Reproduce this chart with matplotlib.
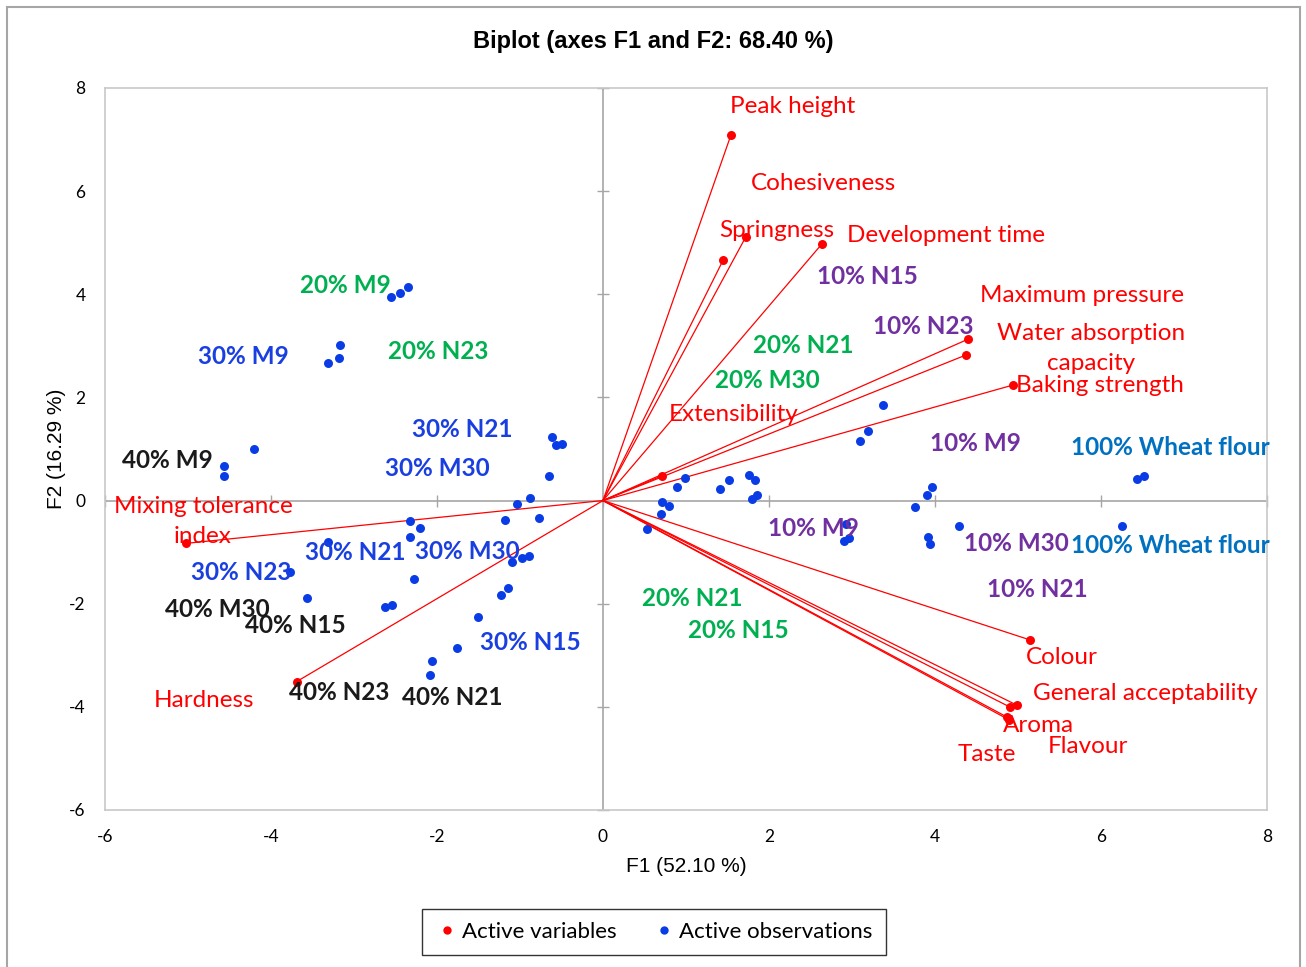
import numpy as np
import matplotlib
matplotlib.use("Agg")
import matplotlib.pyplot as plt
from matplotlib.patches import Rectangle
from matplotlib.lines import Line2D

plt.rcParams["axes.unicode_minus"] = False

# variable loadings (F1, F2)
var_names = ["Peak height", "Cohesiveness", "Springness", "Development time",
             "Maximum pressure", "Water absorption\ncapacity", "Baking strength",
             "Extensibility", "Mixing tolerance\nindex", "Hardness", "Colour",
             "General acceptability", "Aroma", "Taste", "Flavour"]
var_f1 = [1.54, 1.72, 1.45, 2.64, 4.40, 4.37, 4.94, 0.71, -5.02, -3.69, 5.14, 4.99, 4.91, 4.87, 4.89]
var_f2 = [7.08, 5.11, 4.67, 4.98, 3.13, 2.82, 2.24, 0.48, -0.83, -3.51, -2.70, -3.97, -4.01, -4.20, -4.25]

# observation scores (F1, F2)
obs_f1 = [-2.55, -2.45, -2.35, -3.31, -3.18, -3.17, -4.57, -4.57, -4.20,
          -0.61, -0.57, -0.49, -0.65, -0.88, -1.04,
          -2.33, -2.21, -2.33, -3.31, -1.18, -0.77,
          -1.10, -0.97, -0.89, -3.77, -2.28, -3.57,
          -2.63, -2.54, -1.14, -1.23, -1.50, -1.76, -2.06, -2.09,
          3.37, 3.19, 3.10, 6.44, 6.52, 0.99, 0.89, 1.41, 1.52, 1.76, 1.83,
          1.80, 1.86, 3.97, 3.90, 3.76, 0.71, 0.79, 0.70, 0.53,
          4.29, 3.92, 3.94, 2.93, 2.90, 2.96, 6.25]
obs_f2 = [3.94, 4.03, 4.14, 2.67, 2.77, 3.02, 0.67, 0.47, 1.00,
          1.24, 1.07, 1.09, 0.48, 0.05, -0.06,
          -0.39, -0.54, -0.71, -0.81, -0.37, -0.34,
          -1.20, -1.11, -1.07, -1.38, -1.53, -1.89,
          -2.07, -2.03, -1.70, -1.84, -2.25, -2.86, -3.12, -3.38,
          1.86, 1.34, 1.16, 0.42, 0.47, 0.43, 0.26, 0.23, 0.39, 0.50, 0.39,
          0.03, 0.11, 0.26, 0.10, -0.13, -0.03, -0.10, -0.26, -0.55,
          -0.49, -0.70, -0.84, -0.45, -0.78, -0.72, -0.50]

obs_labels = ["20% M9", "20% N23", "20% N21", "20% M30", "20% N21", "20% N15",
              "30% M9", "30% N21", "30% M30", "30% N21", "30% M30", "30% N23", "30% N15",
              "40% M9", "40% M30", "40% N15", "40% N23", "40% N21",
              "10% N15", "10% N23", "10% M9", "10% M9", "10% M30", "10% N21",
              "100% Wheat flour", "100% Wheat flour"]

# label placement
var_label_xy = [(2.28, 7.64), (2.66, 6.15), (2.10, 5.24), (4.13, 5.14), (5.77, 3.98),
                (5.88, 2.95), (5.99, 2.23), (1.58, 1.67), (-4.82, -0.41), (-4.81, -3.88),
                (5.53, -3.04), (6.53, -3.74), (5.25, -4.36), (4.63, -4.93), (5.84, -4.77)]
obs_label_xy = [(-3.10, 4.17), (-1.98, 2.89), (2.41, 3.01), (1.98, 2.33), (1.08, -1.90), (1.63, -2.52),
                (-4.33, 2.79), (-1.70, 1.38), (-2.00, 0.62), (-2.99, -1.01), (-1.63, -0.99),
                (-4.36, -1.40), (-0.88, -2.75),
                (-5.25, 0.78), (-4.65, -2.11), (-3.71, -2.42), (-3.18, -3.72), (-1.82, -3.82),
                (3.18, 4.34), (3.86, 3.37), (4.49, 1.11), (2.53, -0.54), (4.98, -0.83), (5.23, -1.73),
                (6.84, 1.03), (6.84, -0.87)]
group_colors = {"10%": "#7030A0", "20%": "#00B050", "30%": "#1A3FE0",
                "40%": "#1A1A1A", "100%": "#0070C0"}

red = "#FF0000"
blue = "#0A3CE6"
lab_font = ["Lato", "DejaVu Sans"]

fig = plt.figure(figsize=(13.06, 9.67), dpi=100)
ax = fig.add_axes([0.0804, 0.1624, 0.8897, 0.7466])

ax.axhline(0, color="#A6A6A6", lw=1.2, zorder=1)
ax.axvline(0, color="#A6A6A6", lw=1.2, zorder=1)

xt = np.arange(-6, 9, 2)
yt = np.arange(-6, 9, 2)
ax.plot(np.zeros_like(yt), yt, ls="none", marker="_", ms=8, mew=1, color="#A6A6A6", zorder=1, clip_on=False)
ax.plot(xt, np.zeros_like(xt), ls="none", marker="|", ms=8, mew=1, color="#A6A6A6", zorder=1, clip_on=False)

for x, y in zip(var_f1, var_f2):
    ax.plot([0, x], [0, y], color=red, lw=0.9, zorder=2)
ax.scatter(var_f1, var_f2, s=42, color=red, zorder=3, linewidths=0)
ax.scatter(obs_f1, obs_f2, s=42, color=blue, zorder=3, linewidths=0)

for name, (tx, ty) in zip(var_names, var_label_xy):
    ax.text(tx, ty, name, color=red, fontsize=17.5, family=lab_font,
            ha="center", va="center", linespacing=1.55, zorder=4)
for name, (tx, ty) in zip(obs_labels, obs_label_xy):
    c = group_colors[name.split()[0]]
    ax.text(tx, ty, name, color=c, fontsize=17.5, family=lab_font, fontweight="bold",
            ha="center", va="center", zorder=4)

ax.set_xlim(-6, 8)
ax.set_ylim(-6, 8)
ax.set_xticks(xt)
ax.set_yticks(yt)
ax.tick_params(length=0, labelsize=12.5, pad=14)
for lab in ax.get_xticklabels() + ax.get_yticklabels():
    lab.set_family(lab_font)
for s in ax.spines.values():
    s.set_color("#C8C8C8")
    s.set_linewidth(1.2)

ax.set_xlabel("F1 (52.10 %)", fontsize=15, family="Liberation Sans", labelpad=8)
ax.set_ylabel("F2 (16.29 %)", fontsize=15, family="Liberation Sans", labelpad=2)
fig.text(0.5, 0.9566, "Biplot (axes F1 and F2: 68.40 %)", ha="center", va="center",
         fontsize=17, fontweight="bold", family="Liberation Sans")

handles = [Line2D([], [], ls="none", marker="o", ms=6, color=red, mew=0),
           Line2D([], [], ls="none", marker="o", ms=6, color=blue, mew=0)]
leg = fig.legend(handles, ["Active variables", "Active observations"], loc="center",
                 bbox_to_anchor=(0.5008, 0.0362), ncol=2, fancybox=False, frameon=True,
                 handletextpad=0.2, columnspacing=1.6, handlelength=1.0, borderpad=0.6,
                 prop={"family": lab_font, "size": 16})
leg.get_frame().set_edgecolor("black")
leg.get_frame().set_linewidth(1.0)

# outer chart border
fig.add_artist(Rectangle((0.0054, -0.02), 0.9900, 1.0128, transform=fig.transFigure,
                         fill=False, edgecolor="#A6A6A6", lw=1.5))

fig.savefig("out.png", dpi=100)
